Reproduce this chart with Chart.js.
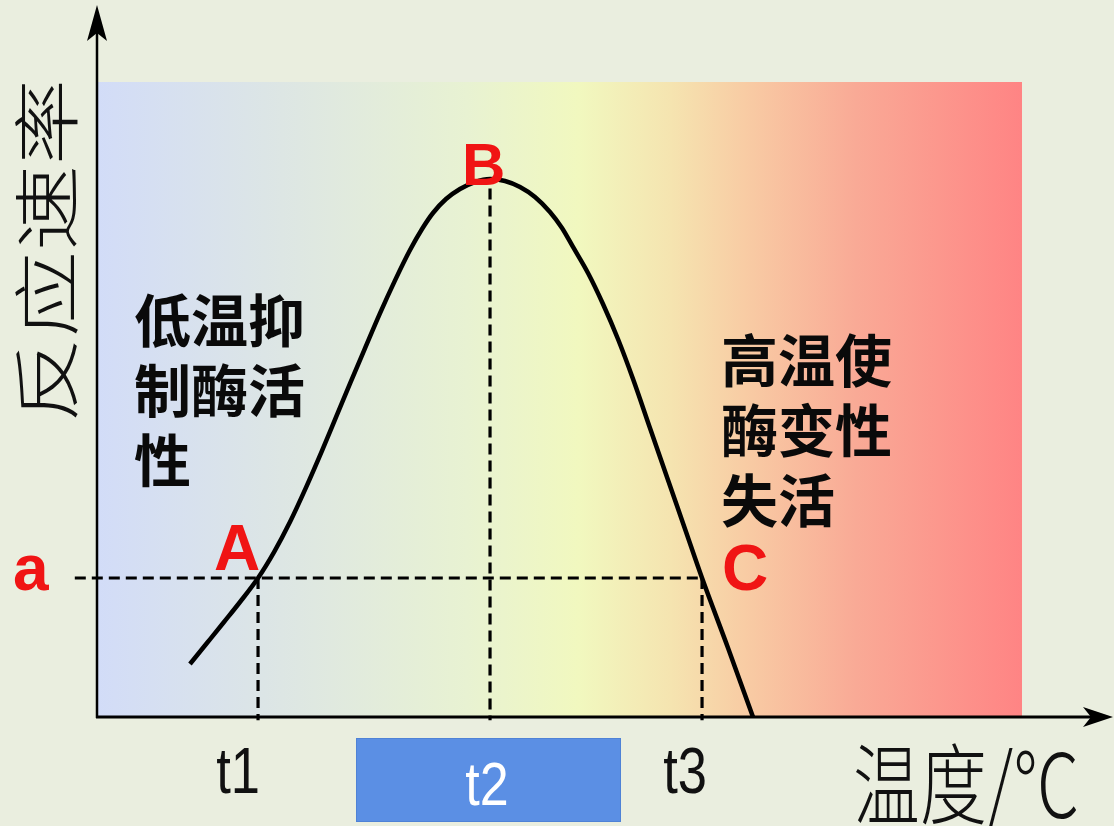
<!DOCTYPE html>
<html>
<head>
<meta charset="utf-8">
<script src="https://cdn.jsdelivr.net/npm/chart.js@4/dist/chart.umd.min.js"></script>
<style>
html,body{margin:0;padding:0;background:#eaeedf;}
#wrap{width:1114px;height:826px;position:relative;}
</style>
</head>
<body>
<div id="wrap"><canvas id="c"></canvas></div>
<script>
// Curve: temperature (x, 0-100 of the plotted range) vs reaction rate (y, 0-100)
const curveX = [10.05, 11.89, 13.73, 15.46, 17.41, 19.14, 20.86, 22.59, 24.32, 25.84, 27.35, 28.97, 30.59, 32.22, 33.84, 35.14, 36.32, 37.73, 39.24, 40.86, 42.49,
                44.11, 45.73, 47.35, 48.97, 50.27, 51.46, 53.08, 54.70, 56.32, 57.95, 59.78, 61.73, 63.57, 65.41, 68.22, 70.92];
const curveY = [8.35, 11.65, 14.96, 18.11, 21.89, 25.98, 30.71, 36.13, 41.92, 47.21, 52.50, 58.05, 63.56, 68.76, 73.54, 76.85, 79.37, 81.57, 83.15, 84.25, 84.72,
                84.41, 83.46, 81.89, 79.53, 77.01, 74.02, 69.92, 65.04, 59.53, 53.23, 45.51, 37.32, 29.61, 21.89, 10.87, 0];
// Key points A, B, C
const pointLabels = ['A', 'B', 'C'];
const pointX = [17.41, 42.49, 65.41];
const pointY = [21.89, 84.72, 21.89];
// Tick labels under the x axis (at A, B, C temperatures)
const tickLabels = ['t1', 't2', 't3'];
// Rate level label
const levelLabel = 'a';
const levelLineStart = -2.4;
const yTitle = '反应速率';
const xTitle = '温度/℃';
const leftNote = ['低温抑', '制酶活', '性'];
const rightNote = ['高温使', '酶变性', '失活'];

const curveData = curveX.map((x, i) => ({x, y: curveY[i]}));
const dashStyle = {borderColor: '#000', borderWidth: 3.2, borderDash: [11, 6], pointRadius: 0, clip: false, order: 2, tension: 0};
const dashSets = [
  Object.assign({data: [{x: levelLineStart, y: pointY[0]}, {x: pointX[2], y: pointY[2]}]}, dashStyle),
  Object.assign({data: [{x: pointX[0], y: pointY[0]}, {x: pointX[0], y: -0.5}]}, dashStyle),
  Object.assign({data: [{x: pointX[1], y: pointY[1] - 1.5}, {x: pointX[1], y: -0.5}]}, dashStyle),
  Object.assign({data: [{x: pointX[2], y: pointY[2]}, {x: pointX[2], y: -0.5}]}, dashStyle)
];

const decor = {
  id: 'decor',
  beforeDraw(chart) {
    const ctx = chart.ctx, a = chart.chartArea;
    ctx.save();
    ctx.fillStyle = '#eaeedf';
    ctx.fillRect(0, 0, chart.width, chart.height);
    const g = ctx.createLinearGradient(a.left, 0, a.right, 0);
    g.addColorStop(0, '#d2dcf8');
    g.addColorStop(0.2, '#dde6e4');
    g.addColorStop(0.4, '#e8f2d2');
    g.addColorStop(0.52, '#f1f8bf');
    g.addColorStop(0.62, '#f5e4b0');
    g.addColorStop(0.7, '#f8cca4');
    g.addColorStop(0.82, '#f9aa96');
    g.addColorStop(1, '#ff8484');
    ctx.fillStyle = g;
    ctx.fillRect(a.left, a.top, a.right - a.left, a.bottom - a.top);
    ctx.restore();
  },
  afterDatasetsDraw(chart) {
    const ctx = chart.ctx, a = chart.chartArea;
    ctx.save();
    ctx.strokeStyle = '#000';
    ctx.fillStyle = '#000';
    // y axis
    ctx.lineWidth = 2.5;
    ctx.beginPath(); ctx.moveTo(a.left, a.bottom + 1); ctx.lineTo(a.left, 30); ctx.stroke();
    ctx.beginPath();
    ctx.moveTo(a.left, 5); ctx.lineTo(a.left - 10, 41); ctx.lineTo(a.left, 33); ctx.lineTo(a.left + 10, 41); ctx.closePath(); ctx.fill();
    // x axis
    ctx.lineWidth = 3;
    ctx.beginPath(); ctx.moveTo(a.left - 1, a.bottom); ctx.lineTo(1095, a.bottom); ctx.stroke();
    ctx.beginPath();
    ctx.moveTo(1113, a.bottom); ctx.lineTo(1083, a.bottom - 10); ctx.lineTo(1091, a.bottom); ctx.lineTo(1083, a.bottom + 10); ctx.closePath(); ctx.fill();
    ctx.restore();
  },
  afterDraw(chart) {
    const ctx = chart.ctx, xs = chart.scales.x, ys = chart.scales.y;
    ctx.save();
    // axis titles (thin, horizontally condensed)
    ctx.fillStyle = '#111';
    ctx.save();
    ctx.translate(47, 251); ctx.scale(0.78, 1); ctx.rotate(-Math.PI / 2);
    ctx.font = '300 86px "Noto Sans CJK SC"';
    ctx.textAlign = 'center'; ctx.textBaseline = 'middle';
    ctx.fillText(yTitle, 0, 0);
    ctx.restore();
    ctx.save();
    ctx.translate(853, 784); ctx.scale(0.76, 1);
    ctx.font = '300 88px "Noto Sans CJK SC"';
    ctx.textAlign = 'left'; ctx.textBaseline = 'middle';
    ctx.fillText(xTitle, 0, 0);
    ctx.restore();

    // tick labels
    const px = pointX.map(v => xs.getPixelForValue(v));
    const base = ys.getPixelForValue(0);
    ctx.font = '64px "Liberation Sans", Arial, sans-serif';
    ctx.textAlign = 'center'; ctx.textBaseline = 'alphabetic';
    [[0, -20, 76], [2, -17, 76]].forEach(([i, dx, dy]) => {
      ctx.save(); ctx.translate(px[i] + dx, base + dy); ctx.scale(0.82, 1);
      ctx.fillStyle = '#111'; ctx.fillText(tickLabels[i], 0, 0); ctx.restore();
    });
    // t2 box
    ctx.fillStyle = '#5b8fe4';
    ctx.fillRect(356, 738, 265, 84);
    ctx.strokeStyle = '#4f82d6'; ctx.lineWidth = 1;
    ctx.strokeRect(356.5, 738.5, 264, 83);
    ctx.save(); ctx.translate(px[1] - 3, base + 88); ctx.scale(0.84, 1);
    ctx.font = '62px "Liberation Sans", Arial, sans-serif';
    ctx.fillStyle = '#ffffff'; ctx.fillText(tickLabels[1], 0, 0); ctx.restore();

    // red point labels
    ctx.fillStyle = '#f01414';
    ctx.textAlign = 'left';
    ctx.font = 'bold 64px "Liberation Sans", Arial, sans-serif';
    const py = pointY.map(v => ys.getPixelForValue(v));
    ctx.fillText(pointLabels[0], px[0] - 44, py[0] - 8);
    ctx.font = 'bold 60px "Liberation Sans", Arial, sans-serif';
    ctx.fillText(pointLabels[1], px[1] - 28, py[1] + 6);
    ctx.font = 'bold 64px "Liberation Sans", Arial, sans-serif';
    ctx.fillText(pointLabels[2], px[2] + 20, py[2] + 12);
    ctx.fillText(levelLabel, 13, py[0] + 12);

    // notes
    ctx.fillStyle = '#0a0a0a';
    ctx.font = 'bold 57px "Noto Sans CJK SC"';
    ctx.textBaseline = 'middle';
    leftNote.forEach((t, i) => ctx.fillText(t, 134, 320 + i * 70));
    rightNote.forEach((t, i) => ctx.fillText(t, 721, 360 + i * 70));
    ctx.restore();
  }
};

new Chart(document.getElementById('c'), {
  type: 'line',
  data: {
    datasets: [
      {data: curveData, borderColor: '#000', borderWidth: 4.5, pointRadius: 0, cubicInterpolationMode: 'monotone', order: 1, clip: false, borderCapStyle: 'butt', borderJoinStyle: 'round'},
      ...dashSets
    ]
  },
  options: {
    responsive: true,
    maintainAspectRatio: false,
    animation: false,
    layout: {padding: {left: 97, top: 82, right: 92, bottom: 109}},
    scales: {
      x: {type: 'linear', min: 0, max: 100, display: false},
      y: {type: 'linear', min: 0, max: 100, display: false}
    },
    plugins: {legend: {display: false}, tooltip: {enabled: false}}
  },
  plugins: [decor]
});
</script>
</body>
</html>
